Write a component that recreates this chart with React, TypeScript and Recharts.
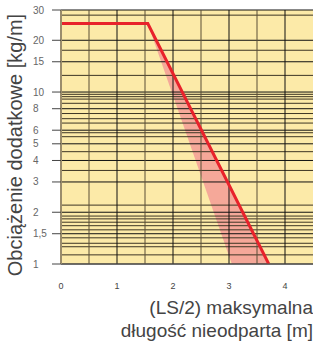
import {
  ComposedChart, Line, Area, XAxis, YAxis, ReferenceLine, ReferenceArea,
} from 'recharts';

// red limit line (x in m, y in kg/m)
const limitX = [0, 1.55, 3.71];
const limitY = [25, 25, 1];

// pink tolerance band
const bandX = [1.55, 3.05, 3.71];
const bandLow = [25, 1, 1];
const bandHigh = [25, 2.7, 1];

const xTicks = [0, 1, 2, 3, 4];
const xGrid = [0.5, 1, 1.5, 2, 2.5, 3, 3.5, 4];
const yTicks = [1, 1.5, 2, 3, 4, 5, 6, 8, 10, 15, 20, 30];
const yMinorGrid = [
  28, 17.5, 12.5, 9.7, 9.4, 9.1, 8.6, 7.5, 7, 6.6, 5.8, 5.5, 4.5, 3.5,
  2.2, 1.9, 1.83, 1.75, 1.67, 1.58, 1.42, 1.32, 1.26, 1.13,
];

const limitData = limitX.map((x, i) => ({ x, y: limitY[i] }));
const bandData = bandX.map((x, i) => ({ x, range: [bandLow[i], bandHigh[i]] }));

const YTick = ({ y, payload }: any) => (
  <text x={33} y={y} dy={3.5} textAnchor="start" fontSize={10} fill="#666"
    fontFamily="Liberation Sans, Arial, sans-serif">
    {String(payload.value).replace('.', ',')}
  </text>
);

export default function App() {
  return (
    <div style={{ position: 'absolute', left: 0, top: 0, width: 313, height: 345, overflow: 'hidden' }}>
      <ComposedChart width={313} height={345} margin={{ top: 10, right: 0, bottom: 61, left: 0 }}>
        <XAxis
          dataKey="x"
          type="number"
          domain={[0, 4.5]}
          ticks={xTicks}
          interval={0}
          allowDataOverflow
          tick={{ fontSize: 9, fill: '#444', fontFamily: 'Liberation Sans, Arial, sans-serif' }}
          tickLine={false}
          axisLine={{ stroke: '#555', strokeWidth: 1 }}
          tickMargin={13}
          height={20}
        />
        <YAxis
          scale="log"
          domain={[1, 30]}
          ticks={yTicks}
          interval={0}
          allowDataOverflow
          width={61}
          tick={<YTick />}
          tickSize={9}
          tickLine={{ stroke: '#444' }}
          axisLine={{ stroke: '#9a8c6c', strokeWidth: 2 }}
        />
        <ReferenceArea x1={0} x2={4.5} y1={1} y2={30} fill="#FCEAA8" fillOpacity={1} stroke="none" />
        {yMinorGrid.map((v) => (
          <ReferenceLine key={'m' + v} y={v} stroke="#3d3524" strokeWidth={1} />
        ))}
        {yTicks.map((v) => (
          <ReferenceLine key={'t' + v} y={v} stroke="#111" strokeWidth={1} />
        ))}
        {xGrid.map((v) => (
          <ReferenceLine key={'x' + v} x={v} stroke={v % 1 === 0 ? '#111' : '#5a4e36'} strokeWidth={1} />
        ))}
        <Area
          data={bandData}
          dataKey="range"
          type="linear"
          stroke="none"
          fill="#F07B8F"
          fillOpacity={0.6}
          isAnimationActive={false}
        />
        <Line
          data={limitData}
          dataKey="y"
          type="linear"
          stroke="#E8222B"
          strokeWidth={3}
          dot={false}
          isAnimationActive={false}
        />
      </ComposedChart>
      <div style={{
        position: 'absolute', left: 15, top: 145, transform: 'translate(-50%, -50%) rotate(-90deg)',
        whiteSpace: 'nowrap', fontSize: 20, color: '#444', fontFamily: 'Liberation Sans, Arial, sans-serif',
      }}>
        Obciążenie dodatkowe [kg/m]
      </div>
      <div style={{
        position: 'absolute', right: 0, top: 296, textAlign: 'right', lineHeight: '23px',
        fontSize: 19, color: '#444', fontFamily: 'Liberation Sans, Arial, sans-serif', whiteSpace: 'nowrap',
      }}>
        (LS/2) maksymalna<br />długość nieodparta [m]
      </div>
    </div>
  );
}
